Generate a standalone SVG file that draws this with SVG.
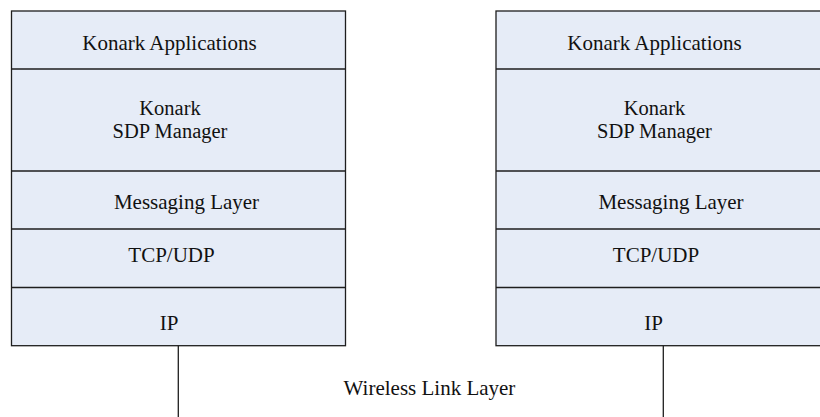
<svg xmlns="http://www.w3.org/2000/svg" width="820" height="417" viewBox="0 0 820 417">
  <style>
    .layer { fill: #e6ecf7; stroke: #1e1e1e; stroke-width: 1.3; }
    .div { stroke: #1e1e1e; stroke-width: 1.3; }
    .link { stroke: #1e1e1e; stroke-width: 1.3; fill: none; }
    .lbl { font-family: 'Liberation Serif', 'DejaVu Serif', serif; font-size: 21px; fill: #111; text-anchor: middle; }
    .two { font-size: 20.5px; }
  </style>
  <rect width="820" height="417" fill="#ffffff"/>

  <!-- Left protocol stack -->
  <g id="stack-left">
    <rect class="layer" x="11.5" y="11" width="334" height="334.7"/>
    <line class="div" x1="11.5" y1="69" x2="345.5" y2="69"/>
    <line class="div" x1="11.5" y1="171" x2="345.5" y2="171"/>
    <line class="div" x1="11.5" y1="229" x2="345.5" y2="229"/>
    <line class="div" x1="11.5" y1="287.5" x2="345.5" y2="287.5"/>
    <g id="left-apps"><text class="lbl" x="169.5" y="49.5">Konark Applications</text></g>
    <g id="left-sdp"><text class="lbl two" x="170" y="115">Konark</text><text class="lbl two" x="170" y="138.2">SDP Manager</text></g>
    <g id="left-msg"><text class="lbl" x="186.5" y="208.5">Messaging Layer</text></g>
    <g id="left-tcp"><text class="lbl" x="171.5" y="262">TCP/UDP</text></g>
    <g id="left-ip"><text class="lbl" x="169" y="329.5">IP</text></g>
  </g>

  <!-- Right protocol stack -->
  <g id="stack-right">
    <rect class="layer" x="496" y="11" width="334" height="334.7"/>
    <line class="div" x1="496" y1="69" x2="830" y2="69"/>
    <line class="div" x1="496" y1="171" x2="830" y2="171"/>
    <line class="div" x1="496" y1="229" x2="830" y2="229"/>
    <line class="div" x1="496" y1="287.5" x2="830" y2="287.5"/>
    <g id="right-apps"><text class="lbl" x="654.5" y="49.5">Konark Applications</text></g>
    <g id="right-sdp"><text class="lbl two" x="654.5" y="115">Konark</text><text class="lbl two" x="654.5" y="138.2">SDP Manager</text></g>
    <g id="right-msg"><text class="lbl" x="671" y="208.5">Messaging Layer</text></g>
    <g id="right-tcp"><text class="lbl" x="656" y="262">TCP/UDP</text></g>
    <g id="right-ip"><text class="lbl" x="653.5" y="329.5">IP</text></g>
  </g>

  <!-- Wireless link connectors -->
  <g id="connectors">
    <line class="link" x1="178.3" y1="345.7" x2="178.3" y2="417"/>
    <line class="link" x1="663.3" y1="345.7" x2="663.3" y2="417"/>
  </g>
  <g id="wireless-label"><text class="lbl" x="429.5" y="395">Wireless Link Layer</text></g>
</svg>
